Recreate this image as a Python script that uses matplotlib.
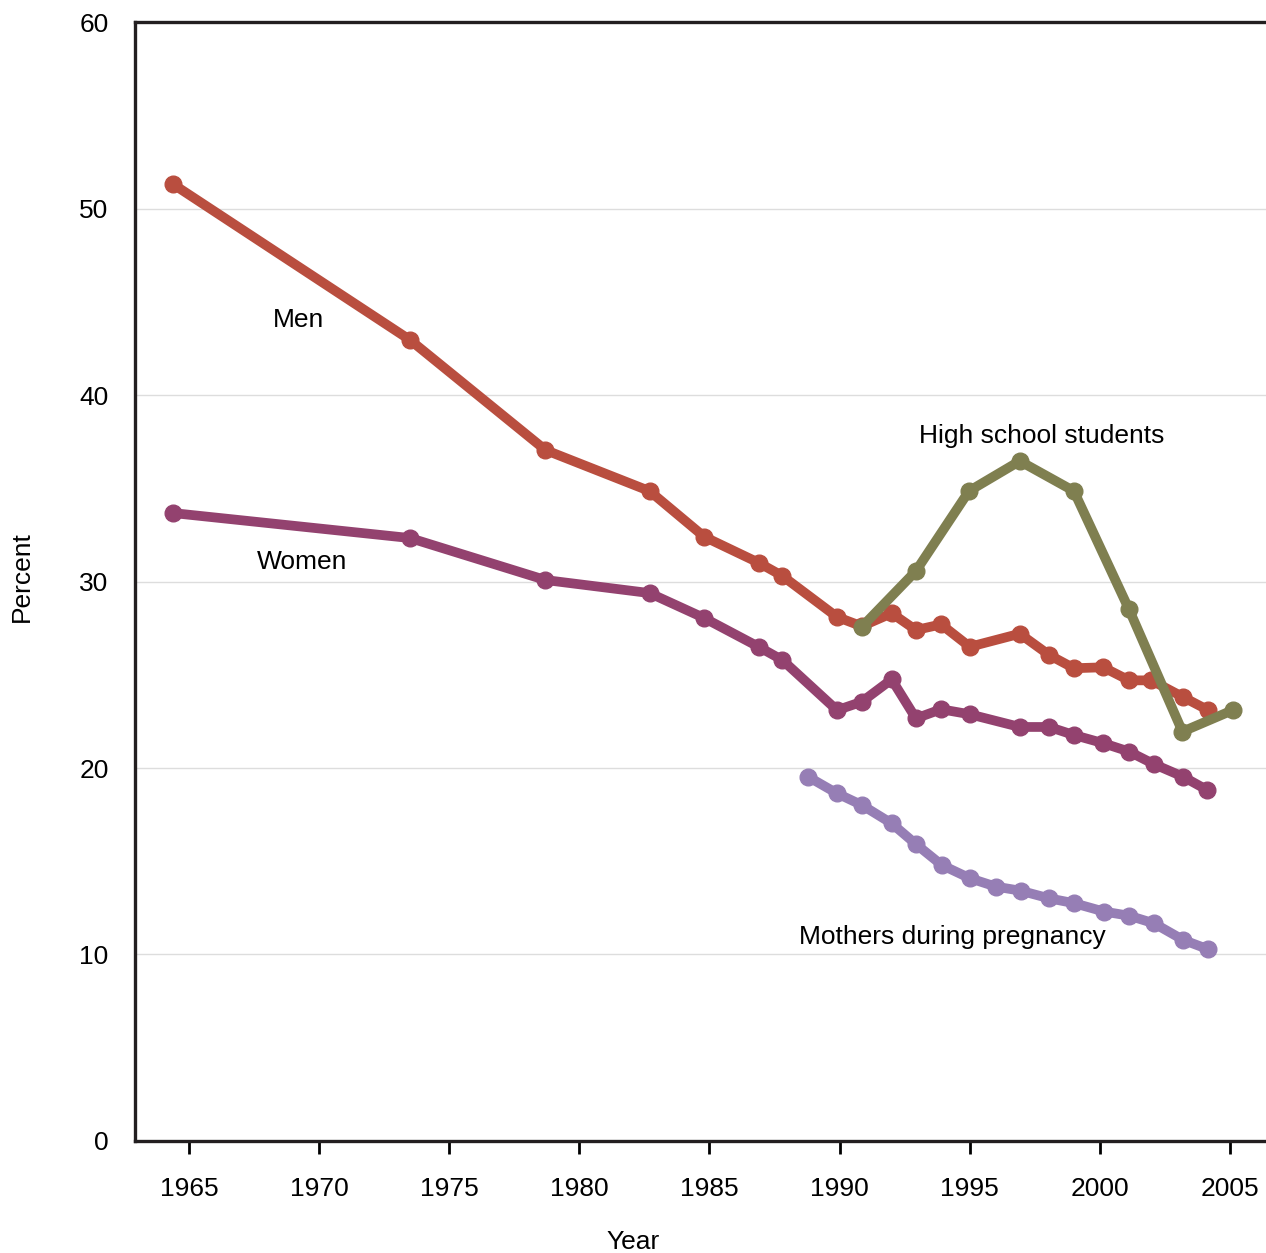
import matplotlib.pyplot as plt
import numpy as np

plt.rcParams['font.family'] = ['Liberation Sans', 'DejaVu Sans']

# years as placed on the chart
men_years = [1964.4, 1973.5, 1978.7, 1982.7, 1984.8, 1986.9, 1987.8, 1989.9, 1990.85,
             1992.0, 1992.93, 1993.9, 1995.0, 1996.92, 1998.05, 1999.0, 2000.13,
             2001.12, 2001.98, 2003.2, 2004.16]
men_pct = [51.3, 42.95, 37.05, 34.85, 32.4, 31.0, 30.3, 28.1, 27.6,
           28.3, 27.4, 27.7, 26.5, 27.2, 26.06, 25.35, 25.4,
           24.7, 24.7, 23.8, 23.1]

women_years = [1964.4, 1973.5, 1978.7, 1982.7, 1984.8, 1986.9, 1987.8, 1989.9, 1990.85,
               1992.0, 1992.93, 1993.9, 1995.0, 1996.92, 1998.05, 1999.0, 2000.13,
               2001.12, 2002.07, 2003.2, 2004.12]
women_pct = [33.67, 32.33, 30.08, 29.38, 28.04, 26.49, 25.79, 23.1, 23.55,
             24.75, 22.66, 23.15, 22.88, 22.2, 22.2, 21.77, 21.33,
             20.88, 20.21, 19.53, 18.82]

hs_years = [1990.85, 1992.93, 1994.97, 1996.92, 1999.0, 2001.12, 2003.17, 2005.1]
hs_pct = [27.56, 30.56, 34.85, 36.46, 34.85, 28.5, 21.95, 23.1]

mothers_years = [1988.79, 1989.9, 1990.87, 1992.0, 1992.93, 1993.92, 1995.0, 1996.0,
                 1996.95, 1998.05, 1999.01, 2000.16, 2001.12, 2002.08, 2003.2, 2004.16]
mothers_pct = [19.53, 18.64, 18.0, 17.03, 15.92, 14.8, 14.09, 13.64,
               13.42, 13.01, 12.75, 12.3, 12.08, 11.67, 10.78, 10.28]

x_ticks = [1965, 1970, 1975, 1980, 1985, 1990, 1995, 2000, 2005]
y_ticks = [0, 10, 20, 30, 40, 50, 60]

fig = plt.figure(figsize=(12.66, 12.53), dpi=100)
ax = fig.add_axes([0.1066, 0.0894, 0.8934, 0.893])

style = dict(linewidth=7, marker='o', markersize=12, solid_joinstyle='round',
             solid_capstyle='round')
ax.plot(women_years, women_pct, color='#93426F', **style, zorder=3)
ax.plot(mothers_years, mothers_pct, color='#967EB5', **style, zorder=3)
ax.plot(men_years, men_pct, color='#B94E3F', **style, zorder=4)
ax.plot(hs_years, hs_pct, color='#7F7F50', **style, zorder=5)

fs = 19
ax.text(1969.23, 44.0, 'Men', fontsize=fs, ha='center', va='center')
ax.text(1969.34, 31.05, 'Women', fontsize=fs, ha='center', va='center')
ax.text(1997.77, 37.8, 'High school students', fontsize=fs, ha='center', va='center')
ax.text(1994.35, 10.94, 'Mothers during pregnancy', fontsize=fs, ha='center', va='center')

ax.set_xlim(1962.93, 2006.38)
ax.set_ylim(0, 60)
ax.set_xticks(x_ticks)
ax.set_yticks(y_ticks)
ax.tick_params(axis='x', length=9, width=2, direction='out', labelsize=fs, pad=17)
ax.tick_params(axis='y', length=0, labelsize=fs, pad=19)

for y in y_ticks[1:-1]:
    ax.axhline(y, color='#DDDDDD', linewidth=1, zorder=1)

for side in ['left', 'bottom', 'top']:
    ax.spines[side].set_linewidth(2.4)
    ax.spines[side].set_color('#231F20')
ax.spines['right'].set_visible(False)

ax.set_xlabel('Year', fontsize=fs)
ax.set_ylabel('Percent', fontsize=fs)
ax.xaxis.set_label_coords(0.44, -0.0795)
ax.yaxis.set_label_coords(-0.0893, 0.504)

fig.savefig('out.png', dpi=100)
